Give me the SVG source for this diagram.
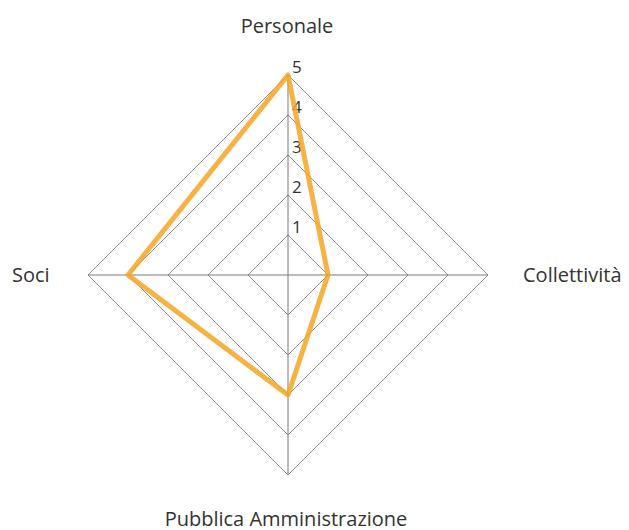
<svg xmlns="http://www.w3.org/2000/svg" width="629" height="530" viewBox="0 0 629 530">
<style>
.grid{fill:none;stroke:#8a8a8a;stroke-width:1}
.axis{stroke:#7a7a7a;stroke-width:1}
.lbl{font-family:"Open Sans","Liberation Sans",sans-serif;font-size:20px;fill:#333}
.tick{font-family:"Open Sans","Liberation Sans",sans-serif;font-size:17px;fill:#333}
.data{fill:none;stroke:#f5a623;stroke-opacity:0.85;stroke-width:5;stroke-linejoin:round}
</style>
<rect width="629" height="530" fill="#fff"/>
<g id="grid">
<polygon class="grid" points="288,235 328,275 288,315 248,275"/>
<polygon class="grid" points="288,195 368,275 288,355 208,275"/>
<polygon class="grid" points="288,155 408,275 288,395 168,275"/>
<polygon class="grid" points="288,115 448,275 288,435 128,275"/>
<polygon class="grid" points="288,75 488,275 288,475 88,275"/>
<line class="axis" x1="288" y1="75" x2="288" y2="475"/>
<line class="axis" x1="88" y1="275" x2="488" y2="275"/>
</g>
<g id="ticks">
<text class="tick" x="292" y="73">5</text>
<text class="tick" x="292" y="113">4</text>
<text class="tick" x="292" y="153">3</text>
<text class="tick" x="292" y="193">2</text>
<text class="tick" x="292" y="233">1</text>
</g>
<g id="series">
<polygon class="data" points="288,75 328,275 288,395 128,275"/>
</g>
<g id="labels">
<text class="lbl" x="287" y="33" text-anchor="middle">Personale</text>
<text class="lbl" x="523" y="282">Collettività</text>
<text class="lbl" x="286" y="526" text-anchor="middle">Pubblica Amministrazione</text>
<text class="lbl" x="12" y="282">Soci</text>
</g>
</svg>
